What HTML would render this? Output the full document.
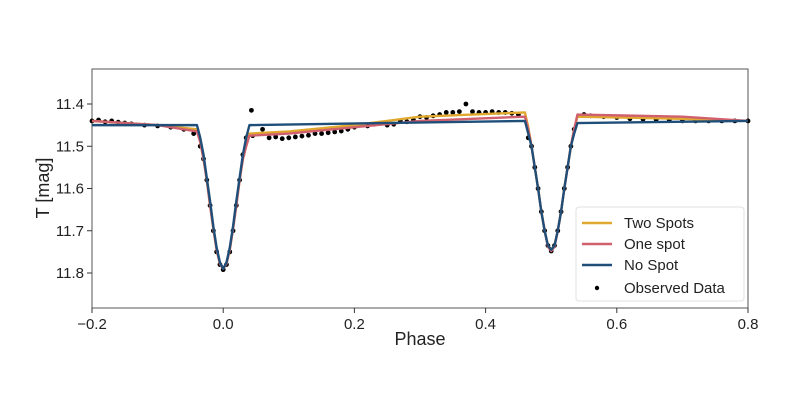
<!DOCTYPE html>
<html><head><meta charset="utf-8"><style>
body{margin:0;background:#fff;}
svg{display:block;font-family:"Liberation Sans",sans-serif;}
</style></head><body>
<svg width="800" height="403">
<g id="plot"></g>
</svg>
<script>
const xTicks=[-0.2,0,0.2,0.4,0.6,0.8];
const xTickLabels=["\u22120.2","0.0","0.2","0.4","0.6","0.8"];
const yTicks=[11.4,11.5,11.6,11.7,11.8];
const yTickLabels=["11.4","11.5","11.6","11.7","11.8"];
const noSpotPhase=[-0.2,-0.04,-0.035,-0.03,-0.025,-0.02,-0.015,-0.01,-0.005,0,0.005,0.01,0.015,0.02,0.025,0.03,0.035,0.04,0.46,0.465,0.47,0.475,0.48,0.485,0.49,0.495,0.5,0.505,0.51,0.515,0.52,0.525,0.53,0.535,0.54,0.8];
const noSpotMag=[11.45,11.45,11.48,11.52,11.575,11.63,11.69,11.74,11.775,11.79,11.775,11.74,11.69,11.63,11.575,11.52,11.48,11.45,11.44,11.47,11.5,11.55,11.6,11.655,11.7,11.735,11.745,11.735,11.7,11.655,11.6,11.55,11.5,11.47,11.445,11.44];
const oneSpotPhase=[-0.2,-0.1,-0.04,-0.035,-0.03,-0.025,-0.02,-0.015,-0.01,-0.005,0,0.005,0.01,0.015,0.02,0.025,0.03,0.035,0.04,0.1,0.2,0.3,0.46,0.465,0.47,0.475,0.48,0.485,0.49,0.495,0.5,0.505,0.51,0.515,0.52,0.525,0.53,0.535,0.54,0.7,0.8];
const oneSpotMag=[11.44,11.45,11.465,11.49,11.53,11.58,11.64,11.695,11.745,11.778,11.79,11.778,11.745,11.695,11.64,11.58,11.53,11.5,11.475,11.47,11.455,11.44,11.43,11.46,11.5,11.55,11.6,11.655,11.7,11.738,11.748,11.738,11.7,11.655,11.6,11.55,11.5,11.46,11.425,11.43,11.44];
const twoSpotPhase=[-0.2,-0.1,-0.04,-0.035,-0.03,-0.025,-0.02,-0.015,-0.01,-0.005,0,0.005,0.01,0.015,0.02,0.025,0.03,0.035,0.04,0.1,0.2,0.3,0.46,0.465,0.47,0.475,0.48,0.485,0.49,0.495,0.5,0.505,0.51,0.515,0.52,0.525,0.53,0.535,0.54,0.7,0.8];
const twoSpotMag=[11.44,11.45,11.46,11.49,11.53,11.58,11.64,11.695,11.745,11.778,11.79,11.778,11.745,11.695,11.64,11.58,11.53,11.5,11.47,11.465,11.45,11.43,11.42,11.455,11.5,11.55,11.6,11.655,11.7,11.735,11.745,11.735,11.7,11.655,11.6,11.55,11.5,11.46,11.43,11.435,11.44];
const obsPhase=[-0.2,-0.19,-0.18,-0.17,-0.16,-0.15,-0.14,-0.12,-0.1,-0.08,-0.06,-0.045,-0.035,-0.03,-0.025,-0.02,-0.015,-0.01,-0.005,0,0.005,0.01,0.015,0.02,0.025,0.03,0.035,0.043,0.045,0.06,0.07,0.08,0.09,0.1,0.11,0.12,0.13,0.14,0.15,0.16,0.17,0.18,0.19,0.2,0.21,0.22,0.23,0.24,0.25,0.26,0.27,0.28,0.29,0.3,0.31,0.32,0.33,0.34,0.35,0.36,0.37,0.38,0.39,0.4,0.41,0.42,0.43,0.44,0.45,0.465,0.47,0.475,0.48,0.485,0.49,0.495,0.5,0.505,0.51,0.515,0.52,0.525,0.53,0.535,0.55,0.56,0.58,0.6,0.62,0.64,0.66,0.68,0.7,0.72,0.74,0.76,0.78,0.8];
const obsMag=[11.44,11.438,11.442,11.44,11.443,11.445,11.447,11.45,11.452,11.455,11.46,11.47,11.5,11.53,11.58,11.64,11.7,11.75,11.78,11.792,11.78,11.75,11.7,11.64,11.58,11.52,11.48,11.415,11.475,11.46,11.48,11.478,11.482,11.48,11.478,11.476,11.474,11.47,11.47,11.468,11.466,11.464,11.46,11.455,11.45,11.452,11.448,11.445,11.45,11.448,11.44,11.442,11.438,11.43,11.432,11.428,11.425,11.42,11.42,11.418,11.40,11.418,11.42,11.42,11.418,11.42,11.42,11.422,11.425,11.48,11.5,11.55,11.6,11.655,11.7,11.735,11.748,11.735,11.7,11.655,11.6,11.55,11.5,11.46,11.425,11.428,11.43,11.432,11.435,11.436,11.437,11.438,11.44,11.44,11.44,11.44,11.44,11.44];
const L=92,R=748,T=69,B=308;
const xs=v=>L+(v+0.2)/1.0*(R-L);
const ys=v=>104+(v-11.4)/0.1*42.25;
const NS="http://www.w3.org/2000/svg";
const g=document.getElementById('plot');
function mk(t,a){const e=document.createElementNS(NS,t);for(const k in a)e.setAttribute(k,a[k]);g.appendChild(e);return e;}
let fr=mk('rect',{x:L,y:T,width:R-L,height:B-T,fill:'none',stroke:'#555','stroke-width':1});


xTicks.forEach((v,i)=>{
 let t=mk('line',{x1:xs(v),x2:xs(v),y1:B,y2:B+5,stroke:'#333'});
 
 
 let l=mk('text',{x:xs(v),y:B+21,'text-anchor':'middle','font-size':15,fill:'#222'});l.textContent=xTickLabels[i];
 
 
});
yTicks.forEach((v,i)=>{
 let t=mk('line',{x1:L-5,x2:L,y1:ys(v),y2:ys(v),stroke:'#333'});
 
 
 let l=mk('text',{x:L-8,y:ys(v)+5,'text-anchor':'end','font-size':15,fill:'#222'});l.textContent=yTickLabels[i];
 
 
});
let xl=mk('text',{x:420,y:345,'text-anchor':'middle','font-size':18,fill:'#222'});xl.textContent='Phase';


let yl=mk('text',{x:0,y:0,'text-anchor':'middle','font-size':18,fill:'#222',transform:'translate(49,188) rotate(-90)'});yl.textContent='T [mag]';


obsPhase.forEach((p,i)=>{
 let c=mk('circle',{cx:xs(p),cy:ys(obsMag[i]),r:2.4,fill:'#000'});
 
 
});
function line(px,py,col,name){
 let p=mk('polyline',{points:px.map((v,i)=>xs(v)+','+ys(py[i])).join(' '),fill:'none',stroke:col,'stroke-width':2.4,'stroke-linejoin':'round'});
 
 
}
line(twoSpotPhase,twoSpotMag,'#e0a82e','two-spots-line');
line(oneSpotPhase,oneSpotMag,'#d0606e','one-spot-line');
line(noSpotPhase,noSpotMag,'#1f4e79','no-spot-line');
let lg=mk('rect',{x:576,y:207,width:168,height:94,fill:'#fff',stroke:'#ddd',rx:3,opacity:0.9});


[['Two Spots','#e0a82e',223],['One spot','#d0606e',244],['No Spot','#1f4e79',265]].forEach(([n,c,y])=>{
 let s=mk('line',{x1:582,x2:612,y1:y,y2:y,stroke:c,'stroke-width':2.5});
 
 
 let t=mk('text',{x:624,y:y+5,'font-size':15,fill:'#222'});t.textContent=n;
 
 
});
let dm=mk('circle',{cx:597,cy:288,r:2.2,fill:'#000'});


let ot=mk('text',{x:624,y:293,'font-size':15,fill:'#222'});ot.textContent='Observed Data';


</script>
</body></html>
